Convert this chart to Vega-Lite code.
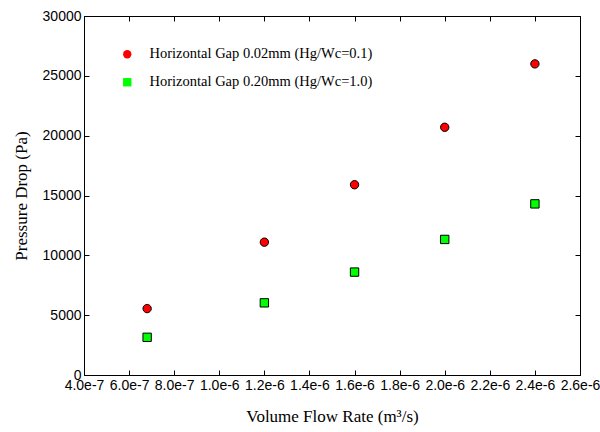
{
  "$schema": "https://vega.github.io/schema/vega-lite/v6.json",
  "width": 496,
  "height": 359,
  "autosize": {"type": "none"},
  "padding": {"left": 84, "top": 16, "right": 20, "bottom": 57},
  "background": "white",
  "data": {
    "values": [
      {"q": 6.8e-7, "dp": 5550, "series": "Horizontal Gap 0.02mm (Hg/Wc=0.1)"},
      {"q": 1.2e-6, "dp": 11100, "series": "Horizontal Gap 0.02mm (Hg/Wc=0.1)"},
      {"q": 1.6e-6, "dp": 15900, "series": "Horizontal Gap 0.02mm (Hg/Wc=0.1)"},
      {"q": 2.0e-6, "dp": 20700, "series": "Horizontal Gap 0.02mm (Hg/Wc=0.1)"},
      {"q": 2.4e-6, "dp": 26000, "series": "Horizontal Gap 0.02mm (Hg/Wc=0.1)"},
      {"q": 6.8e-7, "dp": 3150, "series": "Horizontal Gap 0.20mm (Hg/Wc=1.0)"},
      {"q": 1.2e-6, "dp": 6030, "series": "Horizontal Gap 0.20mm (Hg/Wc=1.0)"},
      {"q": 1.6e-6, "dp": 8600, "series": "Horizontal Gap 0.20mm (Hg/Wc=1.0)"},
      {"q": 2.0e-6, "dp": 11330, "series": "Horizontal Gap 0.20mm (Hg/Wc=1.0)"},
      {"q": 2.4e-6, "dp": 14300, "series": "Horizontal Gap 0.20mm (Hg/Wc=1.0)"}
    ]
  },
  "config": {
    "view": {"stroke": "black", "strokeWidth": 1},
    "axis": {
      "grid": false,
      "domainColor": "black",
      "tickColor": "black",
      "labelColor": "black",
      "titleColor": "black",
      "labelFont": "Liberation Sans",
      "labelFontSize": 14,
      "titleFont": "Liberation Serif",
      "titleFontSize": 17,
      "titleFontWeight": "normal",
      "tickSize": -5,
      "labelOverlap": false,
      "labelFlush": false
    },
    "legend": {
      "orient": "none",
      "legendX": 36,
      "legendY": 31,
      "padding": 0,
      "labelFont": "Liberation Serif",
      "labelFontSize": 14.5,
      "labelColor": "black",
      "labelOffset": 15,
      "rowPadding": 13,
      "symbolStrokeColor": "black",
      "symbolStrokeWidth": 1,
      "symbolSize": 70,
      "labelLimit": 400
    }
  },
  "layer": [
    {
      "mark": {"type": "point", "filled": true, "stroke": "black", "strokeWidth": 1, "opacity": 1, "size": 70},
      "encoding": {
        "x": {
          "field": "q", "type": "quantitative",
          "scale": {"domain": [4e-7, 2.6e-6], "nice": false, "zero": false},
          "axis": {
            "values": [4e-7, 6e-7, 8e-7, 1e-6, 1.2e-6, 1.4e-6, 1.6e-6, 1.8e-6, 2e-6, 2.2e-6, 2.4e-6, 2.6e-6],
            "format": ".1e",
            "labelPadding": 8,
            "tickSize": -5,
            "title": "Volume Flow Rate (m³/s)",
            "titlePadding": 16
          }
        },
        "y": {
          "field": "dp", "type": "quantitative",
          "scale": {"domain": [0, 30000], "nice": false},
          "axis": {
            "values": [0, 5000, 10000, 15000, 20000, 25000, 30000],
            "format": "d",
            "labelPadding": 8,
            "tickSize": -5,
            "title": "Pressure Drop (Pa)",
            "titlePadding": 12
          }
        },
        "fill": {
          "field": "series", "type": "nominal",
          "scale": {"domain": ["Horizontal Gap 0.02mm (Hg/Wc=0.1)", "Horizontal Gap 0.20mm (Hg/Wc=1.0)"], "range": ["#ff0000", "#00ff00"]},
          "legend": {"title": null}
        },
        "shape": {
          "field": "series", "type": "nominal",
          "scale": {"domain": ["Horizontal Gap 0.02mm (Hg/Wc=0.1)", "Horizontal Gap 0.20mm (Hg/Wc=1.0)"], "range": ["circle", "square"]},
          "legend": {"title": null}
        }
      }
    },
    {
      "mark": {"type": "point", "opacity": 0},
      "encoding": {
        "x": {
          "field": "q", "type": "quantitative",
          "scale": {"domain": [4e-7, 2.6e-6], "nice": false, "zero": false},
          "axis": {
            "orient": "top",
            "values": [4e-7, 6e-7, 8e-7, 1e-6, 1.2e-6, 1.4e-6, 1.6e-6, 1.8e-6, 2e-6, 2.2e-6, 2.4e-6, 2.6e-6],
            "labels": false, "title": null, "domain": false, "tickSize": -5
          }
        },
        "y": {
          "field": "dp", "type": "quantitative",
          "scale": {"domain": [0, 30000], "nice": false},
          "axis": {
            "orient": "right",
            "values": [0, 5000, 10000, 15000, 20000, 25000, 30000],
            "labels": false, "title": null, "domain": false, "tickSize": -5
          }
        }
      }
    }
  ],
  "resolve": {"axis": {"x": "independent", "y": "independent"}}
}
